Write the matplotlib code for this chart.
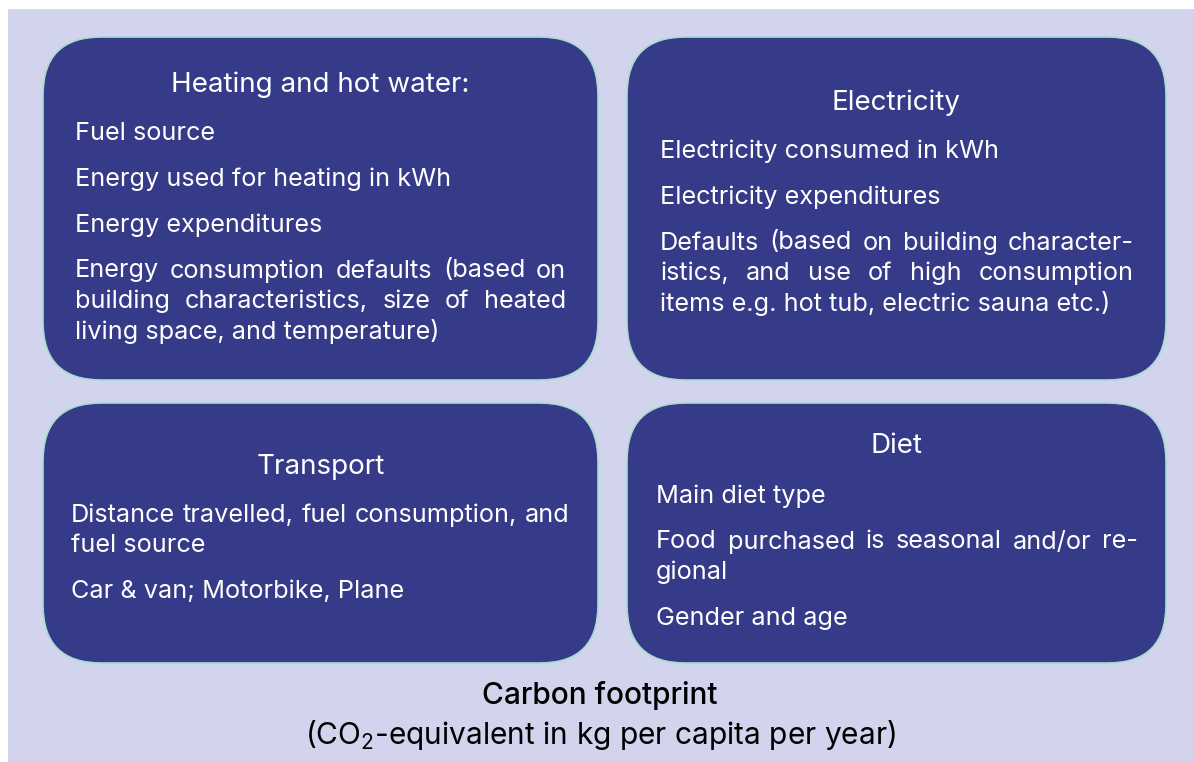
import matplotlib.pyplot as plt
from matplotlib.patches import FancyBboxPatch, Rectangle

plt.rcParams['font.family'] = ['Inter', 'DejaVu Sans']
plt.rcParams['mathtext.fontset'] = 'custom'
plt.rcParams['mathtext.rm'] = 'Inter'

# box contents: title, then paragraphs (each a list of wrapped lines)
titles = ["Heating and hot water:", "Electricity", "Transport", "Diet"]
heating = [["Fuel source"],
           ["Energy used for heating in kWh"],
           ["Energy expenditures"],
           ["Energy consumption defaults (based on",
            "building characteristics, size of heated",
            "living space, and temperature)"]]
electricity = [["Electricity consumed in kWh"],
               ["Electricity expenditures"],
               ["Defaults (based on building character-",
                "istics, and use of high consumption",
                "items e.g. hot tub, electric sauna etc.)"]]
transport = [["Distance travelled, fuel consumption, and",
              "fuel source"],
             ["Car & van; Motorbike, Plane"]]
diet = [["Main diet type"],
        ["Food purchased is seasonal and/or re-",
         "gional"],
        ["Gender and age"]]
footer_title = "Carbon footprint"
footer_sub = r"(CO$_\mathregular{2}$-equivalent in kg per capita per year)"

W, H = 1194, 762
fig = plt.figure(figsize=(W / 100, H / 100), dpi=100)
ax = fig.add_axes([0, 0, 1, 1])
ax.set_xlim(0, W)
ax.set_ylim(H, 0)
ax.axis('off')

BG = '#d2d3ec'
BOX = '#353a89'
EDGE = '#a6dccd'

ax.add_patch(Rectangle((8, 9), W - 8, H - 9, facecolor=BG, edgecolor='none'))

# box geometry: x0, y0, x1, y1, title y, text left, text right, first line y
boxes = [(43, 37, 598, 380, 85, 75, 566, 133),
         (627, 37, 1166, 380, 103, 660, 1134, 151),
         (43, 403, 598, 663, 467, 71, 570, 515),
         (627, 403, 1166, 663, 446, 656, 1138, 496)]
contents = [heating, electricity, transport, diet]

LINE = 30.5
PARA = 46
FS = 18.2

renderer = fig.canvas.get_renderer()


def word_width(w):
    t = ax.text(0, 0, w, fontsize=FS)
    bb = t.get_window_extent(renderer=renderer)
    t.remove()
    return bb.width


def draw_line(s, x0, x1, y, justify):
    if not justify:
        ax.text(x0, y, s, color='white', fontsize=FS, va='center')
        return
    words = s.split(' ')
    widths = [word_width(w) for w in words]
    gap = (x1 - x0 - sum(widths)) / (len(words) - 1)
    x = x0
    for w, wd in zip(words, widths):
        ax.text(x, y, w, color='white', fontsize=FS, va='center')
        x += wd + gap


for (x0, y0, x1, y1, ty, tl, tr, fy), title, paras in zip(boxes, titles, contents):
    ax.add_patch(FancyBboxPatch((x0, y0), x1 - x0, y1 - y0,
                                boxstyle="round,pad=0,rounding_size=58",
                                facecolor=BOX, edgecolor=EDGE, linewidth=1.2))
    ax.text((x0 + x1) / 2, ty, title, color='white', fontsize=20,
            ha='center', va='center')
    y = fy
    for para in paras:
        for i, line in enumerate(para):
            draw_line(line, tl, tr, y, justify=(i < len(para) - 1))
            y += LINE
        y += PARA - LINE

ax.text(600, 695, footer_title, color='black', fontsize=21.5, ha='center',
        va='center', fontweight='medium')
ax.text(600, 735, footer_sub, color='black', fontsize=21.5, ha='center',
        va='center')

fig.savefig('out.png', dpi=100, facecolor='white')
